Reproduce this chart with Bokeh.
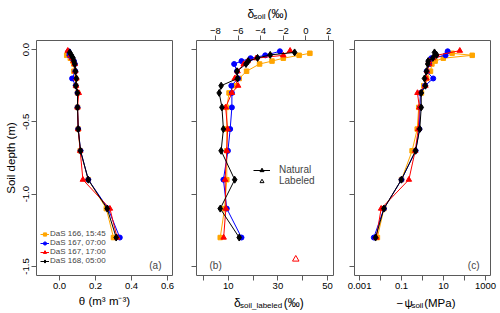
from bokeh.plotting import figure
from bokeh.models import (Range1d, LinearAxis, FixedTicker, Label, Legend, LegendItem,
                          PrintfTickFormatter)
from bokeh.layouts import row, column
from bokeh.core.properties import value
from bokeh.embed import file_html
from bokeh.resources import INLINE

# ---------------- data ----------------
depth_166 = [-0.026, -0.04, -0.06, -0.08, -0.10, -0.15, -0.20, -0.25, -0.30, -0.40, -0.55, -0.70, -0.90, -1.10, -1.30]
depth_167a = [-0.012, -0.04, -0.06, -0.08, -0.10, -0.15, -0.20, -0.25, -0.30, -0.40, -0.55, -0.70, -0.90, -1.10, -1.30]
depth_167b = [-0.008, -0.04, -0.06, -0.08, -0.10, -0.15, -0.20, -0.25, -0.30, -0.40, -0.55, -0.70, -0.90, -1.10, -1.30]
depth_168 = [-0.02, -0.037, -0.058, -0.08, -0.10, -0.15, -0.20, -0.25, -0.30, -0.40, -0.55, -0.70, -0.90, -1.10, -1.30]

theta_166 = [0.045, 0.040, 0.060, 0.075, 0.080, 0.080, 0.090, 0.090, 0.100, 0.100, 0.104, 0.115, 0.160, 0.260, 0.300]
theta_167a = [0.050, 0.055, 0.070, 0.080, 0.085, 0.088, 0.070, 0.090, 0.100, 0.100, 0.104, 0.117, 0.160, 0.270, 0.335]
theta_167b = [0.046, 0.060, 0.070, 0.078, 0.085, 0.088, 0.094, 0.092, 0.107, 0.100, 0.104, 0.115, 0.130, 0.280, 0.320]
theta_168 = [0.057, 0.065, 0.075, 0.080, 0.085, 0.089, 0.094, 0.091, 0.100, 0.100, 0.104, 0.117, 0.160, 0.265, 0.315]

dsoil_166 = [0.35, -0.6, -2.0, -3.0, -4.1, -5.25, -5.9, -6.3, -6.8, -7.0, -7.0, -7.0, -7.0, -7.2, -7.58]
dsoil_167a = [-2.3, -3.6, -4.9, -5.7, -6.35, -6.1, -6.0, -6.6, -6.55, -6.55, -6.7, -6.9, -7.3, -7.0, -5.7]
dsoil_167b = [-1.4, -2.0, -4.4, -5.16, -5.5, -6.05, -6.3, -6.0, -6.55, -7.1, -6.93, -7.0, -7.15, -7.08, -7.28]
dsoil_168 = [-1.0, -3.16, -4.28, -5.1, -5.3, -6.1, -6.05, -7.5, -7.67, -7.43, -7.3, -7.5, -6.3, -7.58, -5.9]

dlab_depth = [-1.45]
dlab_value = [37.2]

psi_166 = [25.7, 234.0, 9.8, 4.0, 2.8, 2.4, 1.58, 1.15, 0.89, 0.66, 0.56, 0.32, 0.10, 0.0145, 0.0071]
psi_167a = [15.8, 12.6, 2.6, 2.0, 2.1, 1.58, 3.24, 1.32, 0.79, 0.76, 0.71, 0.47, 0.10, 0.0145, 0.0048]
psi_167b = [60.0, 4.7, 3.2, 2.0, 2.1, 1.66, 1.55, 1.38, 0.575, 0.71, 0.63, 0.45, 0.224, 0.0107, 0.0063]
psi_168 = [3.72, 4.7, 3.1, 1.86, 1.78, 1.55, 1.24, 1.38, 0.87, 0.87, 0.74, 0.47, 0.098, 0.0145, 0.0058]

series_labels = ["DaS 166, 15:45", "DaS 167, 07:00", "DaS 167, 17:00", "DaS 168, 05:00"]
colors = ["orange", "blue", "red", "black"]
markers = ["square", "circle", "triangle", "diamond"]
msizes = [4.5, 5, 5.5, 7]

depths = [depth_166, depth_167a, depth_167b, depth_168]
thetas = [theta_166, theta_167a, theta_167b, theta_168]
dsoils = [dsoil_166, dsoil_167a, dsoil_167b, dsoil_168]
psis = [psi_166, psi_167a, psi_167b, psi_168]

y_ticks = [-1.5, -1.0, -0.5, 0.0]
theta_ticks = [0.0, 0.2, 0.4, 0.6]
dsoil_ticks = [-8, -6, -4, -2, 0, 2]
dlab_ticks = [10, 30, 50]
dlab_minor = [0, 20, 40]
psi_ticks = [0.001, 0.1, 10, 1000]
psi_minor = [0.01, 1, 100]
psi_labels = {0.001: "0.001", 0.1: "0.1", 10: "10", 1000: "1000"}

FONT = "Liberation Sans"
FRAME_H = 235
TOP, BOT = 40, 38
STRIP = 20
FRAME_COL = "#5a5a5a"

def style(p):
    p.outline_line_color = FRAME_COL
    p.outline_line_width = 1
    for g in p.grid:
        g.visible = False
    p.background_fill_color = "white"
    p.border_fill_color = "white"
    for ax in p.axis:
        ax.axis_line_color = None
        ax.major_tick_out = 5
        ax.major_tick_in = 0
        ax.minor_tick_out = 5
        ax.minor_tick_in = 0
        ax.major_tick_line_color = FRAME_COL
        ax.minor_tick_line_color = FRAME_COL
        ax.major_label_text_font = FONT
        ax.major_label_text_font_size = "9.5px"
        ax.major_label_text_color = "black"
        ax.major_label_standoff = 2
        ax.axis_label_text_font = FONT
        ax.axis_label_text_font_style = "normal"
        ax.axis_label_text_font_size = "11.5px"
        ax.axis_label_text_color = "black"

def panel_label(p, text, x, align):
    p.add_layout(Label(x=x, y=10, x_units="screen", y_units="screen", text=text,
                       text_font=FONT, text_font_size="10px", text_align=align,
                       text_baseline="middle"))

def strip(width, parts, left, yc):
    # parts: (text, font_px, dy, x offset from the title's left edge)
    s = figure(width=width, height=STRIP, output_backend="svg", toolbar_location=None,
               x_range=Range1d(0, width), y_range=Range1d(0, STRIP),
               x_axis_location=None, y_axis_location=None, min_border=0)
    s.outline_line_color = None
    for g in s.grid:
        g.visible = False
    for t, fs, dy, dx in parts:
        s.text(x=[left + dx], y=[yc + dy], text=[t], text_font=value(FONT),
               text_font_size=value(f"{fs}px"), text_align="left",
               text_baseline="middle", text_color="black")
    return s

yr = lambda: Range1d(-1.5625, 0.0625)

# ---------------- panel (a) ----------------
pa = figure(width=184, height=TOP + FRAME_H + BOT, output_backend="svg", toolbar_location=None,
            x_range=Range1d(-0.1278, 0.6278), y_range=yr(),
            min_border_left=36, min_border_right=12, min_border_top=TOP, min_border_bottom=BOT)
items = []
for i in range(4):
    l = pa.line(thetas[i], depths[i], line_color=colors[i], line_width=1)
    s = pa.scatter(thetas[i], depths[i], marker=markers[i], size=msizes[i],
                   fill_color=colors[i], line_color=colors[i])
    items.append(LegendItem(label=series_labels[i], renderers=[l, s]))
style(pa)
pa.xaxis.ticker = FixedTicker(ticks=theta_ticks)
pa.xaxis.formatter = PrintfTickFormatter(format="%.1f")
pa.yaxis.ticker = FixedTicker(ticks=y_ticks)
pa.yaxis.formatter = PrintfTickFormatter(format="%.1f")
pa.yaxis.major_label_orientation = "vertical"
pa.yaxis.axis_label = "Soil depth (m)"
pa.yaxis.axis_label_standoff = 4
pa.xaxis.axis_label = "θ (m³ m⁻³)"
pa.xaxis.axis_label_standoff = 3
leg = Legend(items=items, location=(4, 10), padding=0, margin=0, spacing=0,
             glyph_width=9, glyph_height=8, label_height=8, label_standoff=1,
             label_text_font=FONT, label_text_font_size="8px",
             border_line_color=None, background_fill_alpha=0)
pa.add_layout(leg)
panel_label(pa, "(a)", 125, "right")

# ---------------- panel (b) ----------------
pb = figure(width=157, height=(TOP - STRIP) + FRAME_H + (BOT - STRIP), output_backend="svg",
            toolbar_location=None, x_range=Range1d(-2.8, 52.4), y_range=yr(),
            min_border_left=12, min_border_right=8, min_border_top=TOP - STRIP,
            min_border_bottom=BOT - STRIP)
pb.extra_x_ranges = {"soil": Range1d(-9.68, 2.44)}
for i in range(4):
    pb.line(dsoils[i], depths[i], line_color=colors[i], line_width=1, x_range_name="soil")
    pb.scatter(dsoils[i], depths[i], marker=markers[i], size=msizes[i],
               fill_color=colors[i], line_color=colors[i], x_range_name="soil")
pb.scatter(dlab_value, dlab_depth, marker="triangle", size=6.5, fill_color=None,
           line_color="red", line_width=1)
top_ax = LinearAxis(x_range_name="soil", ticker=FixedTicker(ticks=dsoil_ticks))
pb.add_layout(top_ax, "above")
style(pb)
pb.below[0].ticker = FixedTicker(ticks=dlab_ticks, minor_ticks=dlab_minor)
pb.yaxis.ticker = FixedTicker(ticks=[], minor_ticks=y_ticks)
pb.yaxis.major_label_standoff = 0
nan = [float("nan")]
ln = pb.line(nan, nan, line_color="black", line_width=1)
tf = pb.scatter(nan, nan, marker="triangle", size=6, fill_color="black", line_color="black")
to = pb.scatter(nan, nan, marker="triangle", size=6.5, fill_color=None, line_color="black")
leg_b = Legend(items=[LegendItem(label="Natural", renderers=[ln, tf]),
                      LegendItem(label="Labeled", renderers=[to])],
               location=(57, 89), padding=0, margin=0, spacing=0,
               glyph_width=17, glyph_height=10, label_height=10, label_standoff=9,
               label_text_font=FONT, label_text_font_size="10px",
               border_line_color=None, background_fill_alpha=0)
pb.add_layout(leg_b)
panel_label(pb, "(b)", 13, "left")
# page x of column B starts at 184, column C at 341
strip_bt = strip(157, [("δ", 12, 0, 0), ("soil", 8, -3, 6.8), ("(‰)", 12, 0, 23)], 242.5 - 184, 7)
strip_bb = strip(157, [("δ", 12, 0, 0), ("soil_labeled", 8, -3, 6.8), ("(‰)", 12, 0, 57)], 227 - 184, 11)

# ---------------- panel (c) ----------------
pc = figure(width=159, height=TOP + FRAME_H + (BOT - STRIP), output_backend="svg",
            toolbar_location=None, x_axis_type="log", x_range=Range1d(10 ** -3.24, 10 ** 3.24),
            y_range=yr(), min_border_left=13, min_border_right=10, min_border_top=TOP,
            min_border_bottom=BOT - STRIP)
for i in range(4):
    pc.line(psis[i], depths[i], line_color=colors[i], line_width=1)
    pc.scatter(psis[i], depths[i], marker=markers[i], size=msizes[i],
               fill_color=colors[i], line_color=colors[i])
style(pc)
pc.xaxis.ticker = FixedTicker(ticks=psi_ticks, minor_ticks=psi_minor)
pc.xaxis.major_label_overrides = psi_labels
pc.yaxis.ticker = FixedTicker(ticks=[], minor_ticks=y_ticks)
pc.yaxis.major_label_standoff = 0
panel_label(pc, "(c)", 125, "right")
strip_cb = strip(159, [("−", 11.5, 0, 0), ("ψ", 11.5, 0, 9.5), ("soil", 8, -3, 17.5),
                       ("(MPa)", 11.5, 0, 32.5)], 390 - 341, 11)

layout = row(pa, column(strip_bt, pb, strip_bb), column(pc, strip_cb))
open("out.html", "w").write(file_html(layout, INLINE))
